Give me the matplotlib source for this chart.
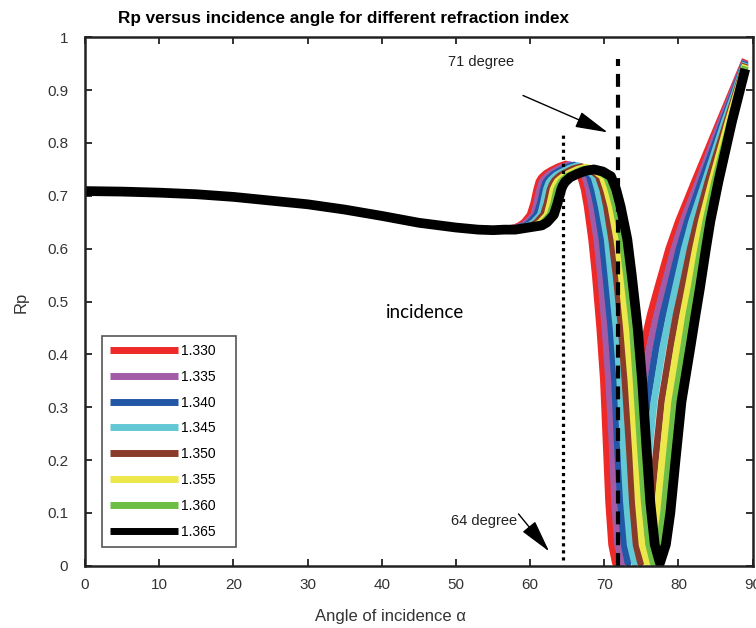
import numpy as np
import matplotlib.pyplot as plt

plt.rcParams['font.family'] = ['Liberation Sans', 'DejaVu Sans']

# Shared part of all curves (below the critical angle the curves coincide)
angle_common = [0, 5, 10, 15, 20, 25, 30, 35, 40, 45, 50, 53, 55]
rp_common = [0.709, 0.708, 0.706, 0.703, 0.698, 0.691, 0.684, 0.674,
             0.662, 0.649, 0.640, 0.636, 0.635]

angle_1330 = [56.5, 58.0, 58.6, 59.2, 60.0, 60.5, 60.9, 61.2, 61.5, 62.1, 62.8, 63.8, 64.8, 65.9, 66.4, 66.8,
              67.3, 67.7, 68.3, 68.8, 69.4, 69.9, 70.3, 70.6, 71.0, 71.5,
              72.0, 72.5, 73.2, 74.0, 75.2, 76.2, 77.2, 78.7, 80.0, 82.2, 85.5, 89.0]
rp_1330 = [0.636, 0.640, 0.644, 0.650, 0.664, 0.686, 0.712, 0.727, 0.734, 0.742, 0.748, 0.755, 0.760, 0.754, 0.746, 0.737,
           0.712, 0.680, 0.618, 0.550, 0.450, 0.350, 0.220, 0.120, 0.040, 0.005,
           0.040, 0.100, 0.200, 0.310, 0.413, 0.475, 0.526, 0.600, 0.652, 0.728, 0.840, 0.958]

angle_1335 = [56.5, 58.0, 59.0, 59.6, 60.5, 60.9, 61.3, 61.6, 61.9, 62.6, 63.3, 64.3, 65.3, 66.4, 66.9, 67.4,
              67.9, 68.3, 69.0, 69.5, 70.1, 70.6, 71.1, 71.4, 71.8, 72.4,
              72.9, 73.4, 74.1, 74.9, 76.1, 77.1, 78.0, 79.4, 80.6, 82.7, 85.7, 89.0]
rp_1335 = [0.636, 0.639, 0.644, 0.650, 0.664, 0.686, 0.712, 0.726, 0.732, 0.741, 0.747, 0.754, 0.759, 0.753, 0.745, 0.737,
           0.712, 0.680, 0.618, 0.550, 0.450, 0.350, 0.220, 0.120, 0.040, 0.005,
           0.040, 0.100, 0.200, 0.310, 0.413, 0.475, 0.526, 0.600, 0.652, 0.728, 0.840, 0.956]

angle_1340 = [56.5, 58.0, 59.5, 60.0, 60.9, 61.4, 61.8, 62.1, 62.4, 63.1, 63.8, 64.8, 65.9, 67.0, 67.5, 68.0,
              68.5, 69.0, 69.7, 70.2, 70.9, 71.4, 71.8, 72.2, 72.7, 73.2,
              73.8, 74.3, 75.0, 75.8, 77.0, 77.9, 78.8, 80.1, 81.2, 83.1, 86.0, 89.0]
rp_1340 = [0.636, 0.638, 0.644, 0.650, 0.664, 0.686, 0.712, 0.725, 0.731, 0.740, 0.746, 0.753, 0.758, 0.752, 0.745, 0.737,
           0.712, 0.680, 0.618, 0.550, 0.450, 0.350, 0.220, 0.120, 0.040, 0.005,
           0.040, 0.100, 0.200, 0.310, 0.413, 0.475, 0.526, 0.600, 0.652, 0.728, 0.840, 0.954]

angle_1345 = [56.5, 58.0, 59.9, 60.5, 61.4, 61.8, 62.2, 62.5, 62.8, 63.5, 64.3, 65.3, 66.4, 67.6, 68.1, 68.6,
              69.1, 69.6, 70.4, 70.9, 71.6, 72.1, 72.6, 73.0, 73.5, 74.1,
              74.7, 75.2, 75.9, 76.7, 77.9, 78.8, 79.6, 80.8, 81.8, 83.6, 86.2, 89.0]
rp_1345 = [0.636, 0.637, 0.644, 0.650, 0.664, 0.686, 0.712, 0.724, 0.730, 0.739, 0.745, 0.752, 0.757, 0.751, 0.744, 0.737,
           0.712, 0.680, 0.618, 0.550, 0.450, 0.350, 0.220, 0.120, 0.040, 0.005,
           0.040, 0.100, 0.200, 0.310, 0.413, 0.475, 0.526, 0.600, 0.652, 0.728, 0.840, 0.952]

angle_1350 = [56.5, 58.0, 60.3, 60.9, 61.8, 62.3, 62.7, 63.0, 63.3, 64.0, 64.8, 65.8, 66.9, 68.1, 68.7, 69.2,
              69.8, 70.3, 71.0, 71.6, 72.3, 72.8, 73.4, 73.8, 74.3, 74.9,
              75.6, 76.2, 76.9, 77.7, 78.9, 79.7, 80.5, 81.6, 82.5, 84.0, 86.5, 89.0]
rp_1350 = [0.636, 0.637, 0.644, 0.650, 0.664, 0.686, 0.712, 0.722, 0.729, 0.738, 0.744, 0.751, 0.755, 0.750, 0.743, 0.737,
           0.712, 0.680, 0.618, 0.550, 0.450, 0.350, 0.220, 0.120, 0.040, 0.005,
           0.040, 0.100, 0.200, 0.310, 0.413, 0.475, 0.526, 0.600, 0.652, 0.728, 0.840, 0.950]

angle_1355 = [56.5, 58.0, 60.8, 61.4, 62.3, 62.7, 63.1, 63.4, 63.7, 64.5, 65.3, 66.4, 67.5, 68.7, 69.2, 69.7,
              70.3, 70.9, 71.7, 72.3, 73.0, 73.6, 74.2, 74.6, 75.1, 75.8,
              76.5, 77.1, 77.8, 78.6, 79.8, 80.6, 81.3, 82.3, 83.1, 84.5, 86.7, 89.0]
rp_1355 = [0.636, 0.636, 0.644, 0.650, 0.664, 0.686, 0.712, 0.721, 0.728, 0.737, 0.743, 0.750, 0.754, 0.749, 0.742, 0.737,
           0.712, 0.680, 0.618, 0.550, 0.450, 0.350, 0.220, 0.120, 0.040, 0.005,
           0.040, 0.100, 0.200, 0.310, 0.413, 0.475, 0.526, 0.600, 0.652, 0.728, 0.840, 0.948]

angle_1360 = [56.5, 58.0, 61.2, 61.8, 62.7, 63.2, 63.6, 63.9, 64.2, 64.9, 65.8, 66.9, 68.0, 69.2, 69.8, 70.3,
              70.9, 71.5, 72.4, 73.0, 73.8, 74.3, 74.9, 75.4, 76.0, 76.6,
              77.4, 78.0, 78.7, 79.5, 80.7, 81.4, 82.1, 83.0, 83.7, 84.9, 87.0, 89.0]
rp_1360 = [0.636, 0.636, 0.644, 0.650, 0.664, 0.686, 0.712, 0.720, 0.727, 0.736, 0.742, 0.749, 0.752, 0.748, 0.741, 0.737,
           0.712, 0.680, 0.618, 0.550, 0.450, 0.350, 0.220, 0.120, 0.040, 0.005,
           0.040, 0.100, 0.200, 0.310, 0.413, 0.475, 0.526, 0.600, 0.652, 0.728, 0.840, 0.945]

angle_1365 = [56.5, 58.0, 61.6, 62.3, 63.2, 63.7, 64.2, 64.4, 64.7, 65.4, 66.3, 67.4, 68.6, 69.8, 70.4, 70.9,
              71.6, 72.2, 73.1, 73.7, 74.5, 75.1, 75.7, 76.2, 76.8, 77.5,
              78.3, 78.9, 79.6, 80.4, 81.6, 82.3, 82.9, 83.7, 84.3, 85.4, 87.2, 89.0]
rp_1365 = [0.636, 0.636, 0.644, 0.650, 0.664, 0.686, 0.712, 0.719, 0.726, 0.735, 0.741, 0.747, 0.750, 0.746, 0.741, 0.737,
           0.712, 0.680, 0.618, 0.550, 0.450, 0.350, 0.220, 0.120, 0.040, 0.005,
           0.040, 0.100, 0.200, 0.310, 0.413, 0.475, 0.526, 0.600, 0.652, 0.728, 0.840, 0.940]

labels = ["1.330", "1.335", "1.340", "1.345", "1.350", "1.355", "1.360", "1.365"]
colors = ["#ED2A27", "#A25BA6", "#2257A6", "#62C8D4", "#8A3A2B", "#ECE74A", "#6DBE45", "#000000"]
angles = [angle_1330, angle_1335, angle_1340, angle_1345, angle_1350, angle_1355, angle_1360, angle_1365]
rps = [rp_1330, rp_1335, rp_1340, rp_1345, rp_1350, rp_1355, rp_1360, rp_1365]

# Marker lines and annotations
angle_64 = 64.4
angle_71 = 71.85

fig = plt.figure(figsize=(7.56, 6.28), dpi=100)
ax = fig.add_axes([0.1124, 0.0992, 0.8832, 0.8414])

for lab, col, a, r in zip(labels, colors, angles, rps):
    x = np.array(angle_common + a)
    y = np.array(rp_common + r)
    lw = 7 if col == "#000000" else 5
    ax.plot(x, y, color=col, lw=lw, label=lab, solid_capstyle="butt", solid_joinstyle="round")

ax.plot([angle_64, angle_64], [0.01, 0.816], color="k", lw=2.3, linestyle=(0, (1, 1.2)))
ax.plot([angle_71, angle_71], [0.0, 0.958], color="k", lw=3, linestyle=(0, (3.1, 1.9)))

arrow = dict(arrowstyle="-|>,head_length=1.2,head_width=0.3", color="k", lw=1, mutation_scale=17)
ax.annotate("", xy=(70.8, 0.818), xytext=(58.7, 0.892), arrowprops=arrow)
ax.annotate("", xy=(62.8, 0.023), xytext=(58.2, 0.102), arrowprops=arrow)
ax.text(53.4, 0.954, "71 degree", fontsize=10.5, ha="center", va="center", color="#222222")
ax.text(53.8, 0.084, "64 degree", fontsize=10.5, ha="center", va="center", color="#222222")
ax.text(45.9, 0.479, "incidence", fontsize=13.5, ha="center", va="center", family=["Lato", "DejaVu Sans"])

ax.set_xlim(0, 90)
ax.set_ylim(0, 1)
ax.set_xticks(np.arange(0, 91, 10))
ax.set_yticks(np.arange(0, 1.01, 0.1))
ax.set_yticklabels(["0", "0.1", "0.2", "0.3", "0.4", "0.5", "0.6", "0.7", "0.8", "0.9", "1"])
ax.tick_params(direction="in", length=5, width=1.3, top=True, right=True,
               labelsize=11, labelcolor="#333333", color="#222222")
ax.tick_params(axis="y", pad=12)
ax.tick_params(axis="x", pad=9)
for sp in ax.spines.values():
    sp.set_linewidth(1.8)
    sp.set_color("#222222")

leg = ax.legend(loc="upper left", bbox_to_anchor=(0.025, 0.0335, 0.2007, 0.402), mode="expand",
                borderaxespad=0, fontsize=10, handlelength=4.9, handletextpad=0.2, labelspacing=0.85,
                borderpad=0.6, fancybox=False, framealpha=1, edgecolor="#555555")
leg.get_frame().set_linewidth(1.2)
for ln in leg.get_lines():
    ln.set_linewidth(5)

fig.text(118 / 756, 1 - 18 / 628, "Rp versus incidence angle for different refraction index",
         fontsize=12.3, fontweight="bold", ha="left", va="center")
fig.text(390 / 756, 1 - 617 / 628, "Angle of incidence \u03b1", fontsize=12, ha="center", va="center",
         color="#333333")
fig.text(21.5 / 756, 1 - 302 / 628, "Rp", fontsize=12, rotation=90, ha="center", va="center", color="#333333")

plt.savefig("out.png", dpi=100)
